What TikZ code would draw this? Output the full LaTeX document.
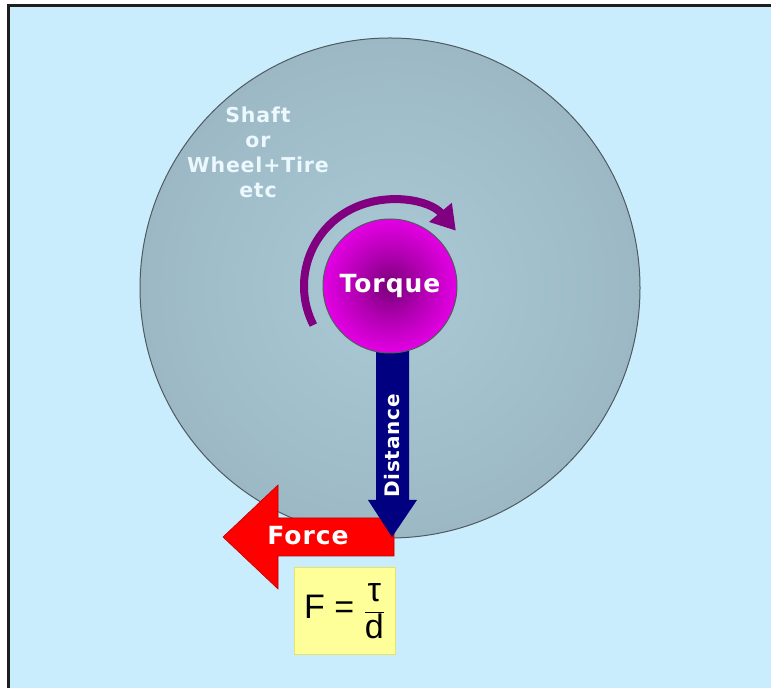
\documentclass[tikz,border=0pt]{standalone}
\usepackage{fontspec}
\setmainfont{DejaVu Sans}
\newfontfamily\labelfont[LetterSpace=4]{DejaVu Sans}
\newfontfamily\arialfont{Liberation Sans}
\usetikzlibrary{arrows.meta}
\definecolor{skyback}{HTML}{C9EDFD}
\definecolor{frameline}{HTML}{1E1E1E}
\definecolor{diskin}{HTML}{ABCAD6}
\definecolor{diskout}{HTML}{8CA6B3}
\definecolor{diskrim}{HTML}{505A60}
\definecolor{hubin}{HTML}{780078}
\definecolor{hubmid}{HTML}{B000B0}
\definecolor{hubhi}{HTML}{F000F0}
\definecolor{hubout}{HTML}{FF00FF}
\definecolor{spin}{HTML}{800080}
\definecolor{lever}{HTML}{000080}
\definecolor{push}{HTML}{FF0000}
\definecolor{pushrim}{HTML}{C00000}
\definecolor{formulafill}{HTML}{FFFF99}
\definecolor{formularim}{HTML}{E4E46A}
\pgfdeclareradialshading{diskshade}{\pgfpoint{0bp}{0bp}}{color(0bp)=(diskin); color(50bp)=(diskout)}
\pgfdeclareradialshading{hubshade}{\pgfpoint{0bp}{0bp}}{color(0bp)=(hubin); color(12bp)=(hubmid); color(28bp)=(hubhi); color(50bp)=(hubout)}
\tikzset{
  label text/.style={text=white, font=\labelfont\bfseries\fontsize{#1}{25}\selectfont},
  formula box/.style={fill=formulafill, draw=formularim, line width=1pt,
    minimum width=101pt, minimum height=87pt, inner sep=0pt,
    font=\arialfont\fontsize{34}{36}\selectfont}
}
\begin{document}
\begin{tikzpicture}[x=1pt,y=1pt]
\useasboundingbox (0,0) rectangle (771,688);
\fill[white] (0,0) rectangle (771,688);
\fill[skyback] (8,0) rectangle (771,683);
\draw[frameline, line width=3pt] (8.5,0) -- (8.5,682.5) -- (771,682.5);
\coordinate (O) at (390,400);
\coordinate (T) at (390,402);
\coordinate (F) at (223,151);
\coordinate (D) at (392,151);
\shade[shading=diskshade] (O) circle (250pt);
\draw[diskrim, line width=1pt] (O) circle (250pt);
\fill[push, draw=pushrim, line width=0.6pt] (F) -- ++(55,52) -- ++(0,-33) -- (394,170)
  -- (394,132) -- (278,132) -- ++(0,-33) -- cycle;
\fill[lever] (D) -- ++(25,37) -- ++(-8,0) -- (409,338) -- (376,338) -- (376,188)
  -- ++(-8,0) -- cycle;
\shade[shading=hubshade] (T) circle (67pt);
\draw[diskrim, line width=1pt] (T) circle (67pt);
\draw[spin, line width=8pt, -{Triangle[width=28pt,length=24pt]}] (T) ++(207:86pt)
  arc[start angle=207, end angle=40, radius=86pt];
\node[label text=25] (torque) at (T) {Torque};
\node[label text=25] (force) at (308,152) {Force};
\node[label text=20, rotate=90] (distance) at (392,242) {Distance};
\node[label text=20.5, align=center, text=white!92!cyan] (shaft) at (258,536)
  {Shaft\\or\\Wheel+Tire\\etc};
\node[formula box] (formula) at (344.5,76.5) {F = $\displaystyle\frac{\hbox{τ}}{\hbox{d}}$};
\end{tikzpicture}
\end{document}
